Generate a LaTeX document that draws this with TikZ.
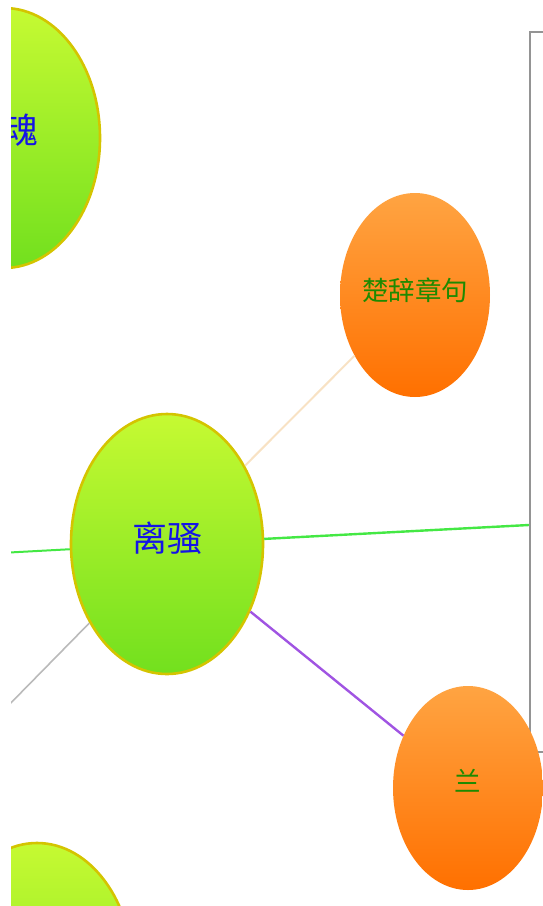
\documentclass[tikz,border=0pt]{standalone}
\usepackage{fontspec}
\newfontfamily\cjk{Noto Sans CJK SC}
\usetikzlibrary{shapes.geometric}
\definecolor{ballTop}{HTML}{C6FA32}
\definecolor{ballBot}{HTML}{72E01E}
\definecolor{ballRim}{HTML}{D4C400}
\definecolor{fruitTop}{HTML}{FFA442}
\definecolor{fruitBot}{HTML}{FF7000}
\definecolor{inkBlue}{HTML}{1414E6}
\definecolor{inkGreen}{HTML}{1E8A00}
\definecolor{linkPeach}{HTML}{F8E2C4}
\definecolor{linkGreen}{HTML}{44E844}
\definecolor{linkPurple}{HTML}{A054E2}
\definecolor{linkGray}{HTML}{BABABA}
\definecolor{panelRim}{HTML}{949494}

\begin{document}
\begin{tikzpicture}[x=1pt,y=-1pt,
    ball/.style={ellipse, draw=ballRim, line width=2.6pt, top color=ballTop,
      bottom color=ballBot, minimum width=192pt, minimum height=260pt,
      inner sep=0pt, text=inkBlue, font=\cjk\fontsize{35}{35}\selectfont},
    fruit/.style={ellipse, top color=fruitTop, bottom color=fruitBot,
      minimum width=150pt, minimum height=204pt, inner sep=0pt,
      text=inkGreen, font=\cjk\fontsize{26.5}{26.5}\selectfont},
    link/.style={line width=2.4pt}]
  \useasboundingbox (0,0) rectangle (543,906);
  \clip (11,0) rectangle (543,906);

  \node[draw=panelRim, line width=2.2pt, fill=white, minimum width=40pt,
    minimum height=720pt, inner sep=0pt] (panel) at (550,392) {};

  \node[ball] (hun) at (4,138) {\raisebox{18pt}{\phantom{魂}魂}};
  \node[ball] (lisao) at (167,544) {\raisebox{14pt}{离骚}};
  \node[ball] (below) at (37,973) {};
  \node[fruit] (zhangju) at (415,295) {\raisebox{12pt}{楚辞章句}};
  \node[fruit] (lan) at (468,788) {\raisebox{16pt}{兰}};

  \coordinate (farA) at (0,553);
  \coordinate (farB) at (0,714);

  \draw[link, linkGreen, line width=2pt] (farA) -- (lisao);
  \draw[link, linkGray, line width=1.6pt] (farB) -- (lisao);
  \draw[link, linkPeach, line width=2pt] (lisao) -- (zhangju);
  \draw[link, linkGreen] (lisao) -- (panel.west |- 0,525);
  \draw[link, linkPurple] (lisao) -- (lan);
\end{tikzpicture}
\end{document}
